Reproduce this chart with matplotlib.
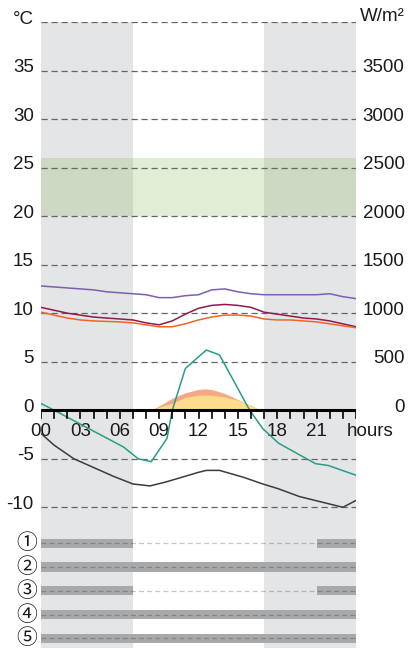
import numpy as np
import matplotlib.pyplot as plt

plt.rcParams['font.family'] = ['Liberation Sans', 'Noto Sans CJK JP', 'DejaVu Sans']

# --- data ---
hours = list(range(25))
t_purple = [12.8, 12.7, 12.6, 12.5, 12.4, 12.2, 12.1, 12.0, 11.9, 11.6, 11.6, 11.8, 11.9,
            12.4, 12.5, 12.2, 12.0, 11.9, 11.9, 11.9, 11.9, 11.9, 12.0, 11.7, 11.5]
t_maroon = [10.6, 10.3, 10.0, 9.8, 9.6, 9.5, 9.4, 9.3, 9.0, 8.8, 9.2, 9.9, 10.5,
            10.8, 10.9, 10.8, 10.6, 10.1, 9.9, 9.7, 9.5, 9.4, 9.2, 8.9, 8.6]
t_orange = [10.1, 9.8, 9.5, 9.3, 9.2, 9.15, 9.1, 9.0, 8.8, 8.6, 8.6, 8.9, 9.3,
            9.6, 9.8, 9.8, 9.7, 9.4, 9.3, 9.3, 9.2, 9.1, 8.9, 8.7, 8.5]

teal_hours = [0, 1, 6.3, 7.4, 8.4, 9.6, 10, 11, 12, 12.6, 13.6, 15.9, 16.9, 18.1, 20.9, 21.9, 24]
t_teal = [0.7, 0.0, -3.8, -5.0, -5.3, -2.9, 0.0, 4.3, 5.5, 6.2, 5.7, 0.0, -1.9, -3.4, -5.5, -5.7, -6.7]

grey_hours = [0, 1, 2.5, 4, 5.5, 7, 8.3, 9.5, 11, 12, 12.6, 13.6, 15.4, 16.9, 18.1, 19.7, 21.5, 23, 24]
t_grey = [-2.4, -3.6, -5.0, -5.9, -6.8, -7.6, -7.8, -7.4, -6.8, -6.4, -6.2, -6.2, -6.9, -7.6,
          -8.1, -8.9, -9.5, -10.0, -9.3]

sun_hours = [8.4, 9, 10, 11, 12, 12.5, 13, 14, 15, 16, 16.7]
sun_total = [0, 45, 123, 180, 215, 220, 214, 172, 110, 50, 0]     # W/m2
sun_yellow = [0, 30, 73, 133, 155, 157, 155, 137, 103, 50, 0]     # W/m2

night = [(0, 7), (17, 24)]
comfort = (20, 26)

left_ticks = [35, 30, 25, 20, 15, 10, 5, 0, -5, -10]
right_ticks = [3500, 3000, 2500, 2000, 1500, 1000, 500, 0]
x_labels = ['00', '03', '06', '09', '12', '15', '18', '21']

row_labels = ['①', '②', '③', '④', '⑤']
row_y = [-13.7, -16.15, -18.6, -21.05, -23.5]
row_spans = [[(0, 7), (21, 3)], [(0, 24)], [(0, 7), (21, 3)], [(0, 24)], [(0, 24)]]

# --- figure ---
fig = plt.figure(figsize=(4.08, 6.48), dpi=100)
W, H = 408, 648
ax = fig.add_axes([41 / W, 0, 315 / W, 1 - 22 / H])
ax2 = ax.twinx()
ax.set_zorder(ax2.get_zorder() + 1)
ax.patch.set_visible(False)

ylo, yhi = -24.5, 40
ax.set_ylim(ylo, yhi)
ax2.set_ylim(ylo * 100, yhi * 100)
ax.set_xlim(0, 24)

for a in (ax, ax2):
    for s in a.spines.values():
        s.set_visible(False)
    a.set_yticks([])
    a.set_xticks([])

txt = dict(fontsize=13.5, color='#1a1a1a')

# background shading (behind)
for x0, x1 in night:
    ax2.axvspan(x0, x1, color='#e4e5e7', lw=0, zorder=0)

ax2.fill_between(sun_hours, 0, sun_total, color='#f6a882', lw=0, zorder=2)
ax2.fill_between(sun_hours, 0, sun_yellow, color='#fddd8c', lw=0, zorder=3)

# comfort band
ax.axhspan(comfort[0], comfort[1], color='#8cb85a', alpha=0.25, lw=0, zorder=1)

# grid
for v in [40] + [t for t in left_ticks if t != 0]:
    ax.plot([0, 24], [v, v], color='#666666', lw=0.9, ls=(0, (5, 3)), zorder=2)

# lines
ax.plot(hours, t_purple, color='#7b5fb3', lw=1.1, zorder=4)
ax.plot(hours, t_maroon, color='#8e1b4f', lw=1.1, zorder=4)
ax.plot(hours, t_orange, color='#f26426', lw=1.1, zorder=4)
ax.plot(teal_hours, t_teal, color='#2a9c8a', lw=1.1, zorder=4)
ax.plot(grey_hours, t_grey, color='#3c3c3c', lw=1.1, zorder=4)

# x axis at 0
ax.plot([0, 24], [0, 0], color='black', lw=2.2, zorder=5, solid_capstyle='butt')
for h in range(25):
    ax.plot([h, h], [0, -0.8], color='black', lw=1.2, zorder=5)
for i, lab in enumerate(x_labels):
    ax.text(i * 3, -2.2, lab, ha='center', va='center', **txt)
ax.text(23.3, -2.2, 'hours', ha='left', va='center', **txt)

# y labels
for v in left_ticks:
    ax.text(-0.55, v + 0.3, str(v), ha='right', va='center', **txt)
ax.text(-0.55, 40.3, '°C', ha='right', va='center', **txt)
for v in right_ticks:
    ax2.text(27.7, v + 30, str(v), ha='right', va='center', **txt)
ax2.text(27.7, 4060, 'W/m²', ha='right', va='center', **txt)

# rows
for lab, y, spans in zip(row_labels, row_y, row_spans):
    ax.broken_barh(spans, (y - 0.48, 0.96), color='#a8a9ab', lw=0, zorder=3)
    ax.plot([0, 24], [y, y], color='black', alpha=0.22, lw=0.9, ls=(0, (4, 2.5)), zorder=4)
    ax.text(-1.1, y, lab, ha='center', va='center', fontsize=15, color='#1a1a1a',
            family=['Noto Sans CJK JP', 'DejaVu Sans'])

fig.savefig('out.png', dpi=100)
